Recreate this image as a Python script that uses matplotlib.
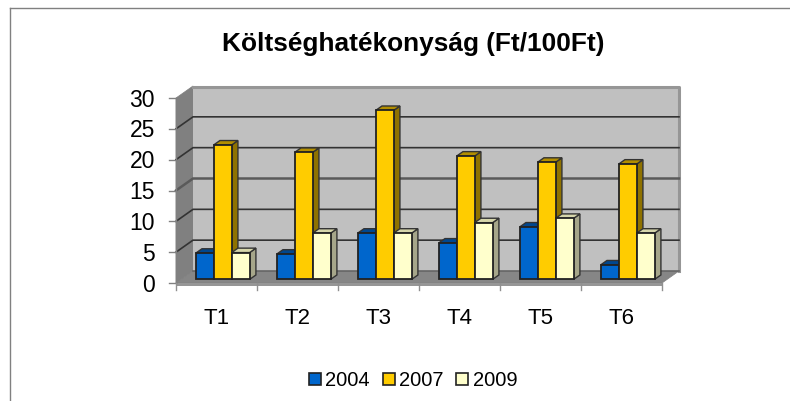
import matplotlib
matplotlib.use('Agg')
import matplotlib.pyplot as plt
from matplotlib.lines import Line2D
from matplotlib.patches import Polygon, Rectangle

plt.rcParams['font.family'] = ['Liberation Sans', 'DejaVu Sans']

# adatok
categories = ['T1', 'T2', 'T3', 'T4', 'T5', 'T6']
years = ['2004', '2007', '2009']
v2004 = [4.25, 4.1, 7.5, 5.9, 8.5, 2.35]
v2007 = [21.8, 20.6, 27.4, 20.0, 19.0, 18.7]
v2009 = [4.35, 7.5, 7.5, 9.2, 9.9, 7.5]
yticks = [0, 5, 10, 15, 20, 25, 30]

front_colors = ['#0066CC', '#FFCC00', '#FFFFCC']
side_colors = ['#003D7A', '#8F7200', '#A6A68A']
top_colors = ['#00478F', '#B28E00', '#D6D6AB']

W, H = 790, 401
fig = plt.figure(figsize=(W / 100, H / 100), dpi=100)
# elso sik: x 176-662 px, y 283-98 px
ax = fig.add_axes([176 / W, 1 - 283 / H, 486 / W, 185 / H])
ax.set_xlim(0, 6)
ax.set_ylim(0, 30)
ax.axis('off')

# 3D eltolas adategysegben
DX = 17 / 81
DY = 12 / (185 / 30)
BAR_W = 0.222
GAP = 0.18
D0, D1 = 0.30, 0.67


def poly(pts, **kw):
    ax.add_patch(Polygon(pts, closed=True, clip_on=False, **kw))


# falak
poly([(0, 0), (DX, DY), (DX, 30 + DY), (0, 30)], fc='#808080', ec='#808080', lw=0.5, zorder=1)
poly([(0, 0), (6, 0), (6 + DX, DY), (DX, DY)], fc='#868686', ec='#808080', lw=0.5, zorder=1)
ax.add_patch(Rectangle((DX, DY), 6, 30, fc='#C0C0C0', ec='none', clip_on=False, zorder=1))
ax.plot([DX, 6 + DX, 6 + DX], [30 + DY - 0.2, 30 + DY - 0.2, DY], color='#969696', lw=2.2,
        clip_on=False, zorder=2)
# padlo elso pereme
ax.add_patch(Rectangle((0, -0.5), 6, 0.5, fc='#969696', ec='none', clip_on=False, zorder=2))

# racsvonalak
for t in yticks[1:-1]:
    lw = 1.8 if t == 15 else 1.2
    c = '#5A5A5A' if t == 15 else '#333333'
    ax.plot([0, DX, 6 + DX], [t, t + DY, t + DY], color=c, lw=lw, clip_on=False, zorder=2)
ax.plot([DX, 6 + DX], [DY, DY], color='#666666', lw=1.2, clip_on=False, zorder=2)

# tengelyek es jelolok
ax.plot([0, 0], [0, 30], color='#808080', lw=1, clip_on=False, zorder=2)
for t in yticks:
    ax.plot([-0.085, 0], [t, t], color='#808080', lw=1, clip_on=False, zorder=2)
    ax.text(-0.26, t - 0.35, str(t), ha='right', va='center', fontsize=16.5, color='black')
for i in range(7):
    ax.plot([i, i], [0, -1.1], color='#909090', lw=1, clip_on=False, zorder=2)
for i, c in enumerate(categories):
    ax.text(i + 0.5, -5.7, c, ha='center', va='center', fontsize=16, color='black')

# oszlopok
series = [v2004, v2007, v2009]
for i in range(len(categories)):
    for j, vals in enumerate(series):
        x0 = i + GAP + j * BAR_W + D0 * DX
        x1 = x0 + BAR_W
        y0 = D0 * DY
        y1 = y0 + vals[i]
        ox = (D1 - D0) * DX
        oy = (D1 - D0) * DY
        z = 5 + j * 0.1
        poly([(x1, y0), (x1 + ox, y0 + oy), (x1 + ox, y1 + oy), (x1, y1)],
             fc=side_colors[j], ec='#333333', lw=1, zorder=z)
        poly([(x0, y1), (x1, y1), (x1 + ox, y1 + oy), (x0 + ox, y1 + oy)],
             fc=top_colors[j], ec='#333333', lw=1, zorder=z)
        ax.add_patch(Rectangle((x0, y0), BAR_W, vals[i], fc=front_colors[j], ec='#222222',
                               lw=1.3, clip_on=False, zorder=z + 0.05))

fig.text(413 / W, 1 - 44.5 / H, 'Költséghatékonyság (Ft/100Ft)', ha='center', va='center',
         fontsize=18.9, fontweight='bold')

handles = [Line2D([], [], marker='s', ls='none', ms=8, mfc=c, mec='#222222', mew=1.2)
           for c in front_colors]
fig.legend(handles, years, loc='center', bbox_to_anchor=(413 / W, 1 - 380.5 / H), ncol=3,
           frameon=False, fontsize=14.5, handlelength=0.6, handletextpad=0.2,
           columnspacing=0.65, borderpad=0)

# diagramterulet kerete
fig.add_artist(Line2D([9.5 / W, 9.5 / W], [0, 1 - 7.5 / H], color='#808080', lw=1))
fig.add_artist(Line2D([9.5 / W, 1], [1 - 7.5 / H, 1 - 7.5 / H], color='#808080', lw=1))

fig.savefig('out.png', dpi=100)
